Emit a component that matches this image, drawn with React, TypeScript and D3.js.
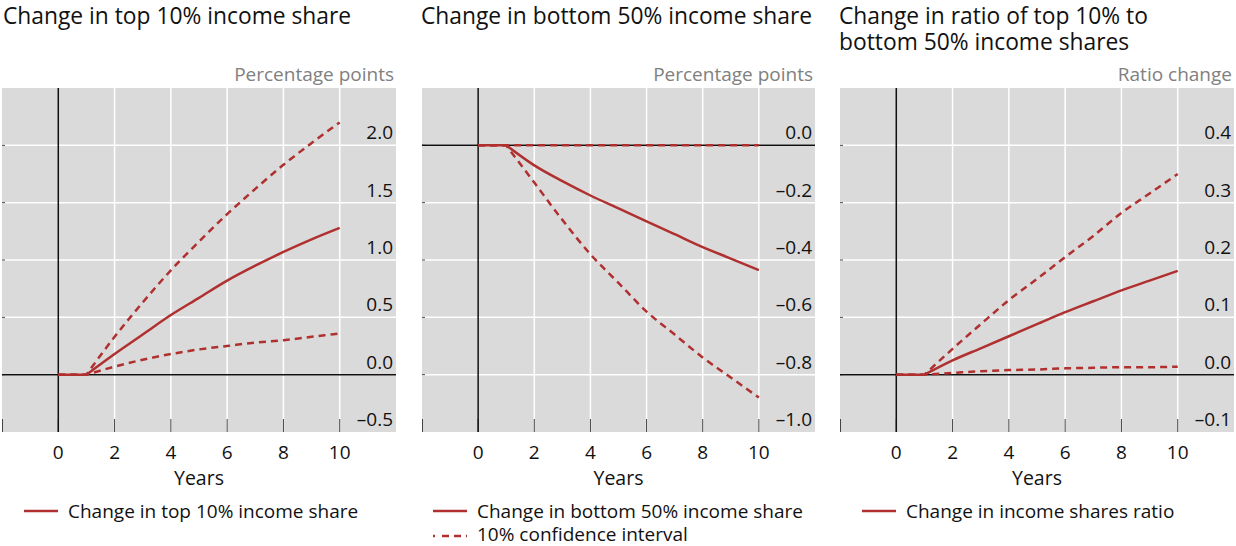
import React from "react";
import * as d3 from "d3";

const years = [0, 1, 2, 3, 4, 5, 6, 7, 8, 9, 10];

const top10Central = [0, 0, 0.18, 0.35, 0.52, 0.67, 0.82, 0.95, 1.07, 1.18, 1.28];
const top10Upper = [0, 0, 0.33, 0.63, 0.91, 1.16, 1.4, 1.62, 1.83, 2.02, 2.2];
const top10Lower = [0, 0, 0.07, 0.13, 0.18, 0.22, 0.25, 0.28, 0.3, 0.33, 0.36];

const bot50Central = [0, 0, -0.07, -0.125, -0.175, -0.22, -0.265, -0.31, -0.355, -0.395, -0.435];
const bot50Upper = [0, 0, 0, 0, 0, 0, 0, 0, 0, 0, 0];
const bot50Lower = [0, 0, -0.13, -0.26, -0.38, -0.48, -0.58, -0.66, -0.74, -0.81, -0.88];

const ratioCentral = [0, 0, 0.025, 0.046, 0.067, 0.088, 0.109, 0.128, 0.147, 0.164, 0.181];
const ratioUpper = [0, 0, 0.045, 0.088, 0.13, 0.167, 0.205, 0.242, 0.282, 0.316, 0.35];
const ratioLower = [0, 0, 0.003, 0.006, 0.008, 0.009, 0.011, 0.012, 0.013, 0.013, 0.014];

const xTicks = [0, 2, 4, 6, 8, 10];

const panels = [
  {
    title: ["Change in top 10% income share"],
    unit: "Percentage points",
    yDomain: [-0.5, 2.5],
    yTicks: [-0.5, 0, 0.5, 1.0, 1.5, 2.0],
    yGrid: [0, 0.5, 1.0, 1.5, 2.0],
    central: top10Central,
    upper: top10Upper,
    lower: top10Lower,
    legend: ["Change in top 10% income share"],
    left: 2,
    right: 396,
    titleX: 3,
    legendX: 24,
  },
  {
    title: ["Change in bottom 50% income share"],
    unit: "Percentage points",
    yDomain: [-1.0, 0.2],
    yTicks: [-1.0, -0.8, -0.6, -0.4, -0.2, 0.0],
    yGrid: [-0.8, -0.6, -0.4, -0.2, 0.0],
    central: bot50Central,
    upper: bot50Upper,
    lower: bot50Lower,
    legend: ["Change in bottom 50% income share", "10% confidence interval"],
    left: 422,
    right: 815,
    titleX: 421,
    legendX: 433,
  },
  {
    title: ["Change in ratio of top 10% to", "bottom 50% income shares"],
    unit: "Ratio change",
    yDomain: [-0.1, 0.5],
    yTicks: [-0.1, 0, 0.1, 0.2, 0.3, 0.4],
    yGrid: [0, 0.1, 0.2, 0.3, 0.4],
    central: ratioCentral,
    upper: ratioUpper,
    lower: ratioLower,
    legend: ["Change in income shares ratio"],
    left: 840,
    right: 1234,
    titleX: 839,
    legendX: 862,
  },
];

const RED = "#b03030";
const BG = "#dadada";
const FONT = "'Open Sans', 'Noto Sans', sans-serif";
const TOP = 88;
const BOTTOM = 432;

const fmt = (v: number) => {
  const s = d3.format(".1f")(Math.abs(v));
  return v < -1e-9 ? "\u2013" + s : s;
};

function Panel({ p }: { p: (typeof panels)[number] }) {
  const x = d3.scaleLinear().domain([-2, 12]).range([p.left, p.right]);
  const y = d3.scaleLinear().domain(p.yDomain).range([BOTTOM, TOP]);
  const flat = d3
    .line<number>()
    .x((_, i) => x(years[i]))
    .y((d) => y(d));
  const curve = d3
    .line<number>()
    .x((_, i) => x(years[i + 1]))
    .y((d) => y(d))
    .curve(d3.curveMonotoneX);
  const series = (vals: number[]) => (flat(vals.slice(0, 2)) || "") + (curve(vals.slice(1)) || "").replace(/^M/, "L");
  const gridYears = [2, 4, 6, 8, 10];
  const tickYears = [-2, 0, 2, 4, 6, 8, 10];
  return (
    <g>
      {p.title.map((t, i) => (
        <text key={i} x={p.titleX} y={24 + i * 26} fontSize={22.8} fill="#111" fontFamily={FONT}>
          {t}
        </text>
      ))}
      <text x={p.right - 2} y={81} fontSize={19} fill="#808080" textAnchor="end" fontFamily={FONT}>
        {p.unit}
      </text>
      <rect x={p.left} y={TOP} width={p.right - p.left} height={BOTTOM - TOP} fill={BG} />
      {gridYears.map((g) => (
        <line key={"vx" + g} x1={x(g)} x2={x(g)} y1={TOP} y2={BOTTOM} stroke="#fff" strokeWidth={1.5} />
      ))}
      {p.yGrid.map((g) => (
        <line key={"hy" + g} x1={p.left} x2={p.right} y1={y(g)} y2={y(g)} stroke="#fff" strokeWidth={1.5} />
      ))}
      {tickYears.map((g) => (
        <line key={"tk" + g} x1={x(g) + (g === -2 ? 0.5 : 0)} x2={x(g) + (g === -2 ? 0.5 : 0)} y1={BOTTOM - 13} y2={BOTTOM} stroke="#444" strokeWidth={1} />
      ))}
      {p.yGrid.map((g) => (
        <line key={"ly" + g} x1={p.left} x2={p.left + 3} y1={y(g)} y2={y(g)} stroke="#444" strokeWidth={1} />
      ))}
      <line x1={x(0)} x2={x(0)} y1={TOP} y2={BOTTOM} stroke="#111" strokeWidth={1.5} />
      <line x1={p.left} x2={p.right} y1={y(0)} y2={y(0)} stroke="#111" strokeWidth={1.5} />
      {p.yTicks.map((t) => (
        <text key={"yl" + t} x={p.right - 3} y={y(t) - 6} fontSize={19} fill="#111" textAnchor="end" fontFamily={FONT}>
          {fmt(t)}
        </text>
      ))}
      {xTicks.map((t) => (
        <text key={"xl" + t} x={x(t)} y={459} fontSize={19} fill="#111" textAnchor="middle" fontFamily={FONT}>
          {t}
        </text>
      ))}
      <text x={x(5)} y={485} fontSize={19.5} fill="#111" textAnchor="middle" fontFamily={FONT}>
        Years
      </text>
      <path d={series(p.upper)} fill="none" stroke={RED} strokeWidth={2.5} strokeDasharray="7,5" />
      <path d={series(p.lower)} fill="none" stroke={RED} strokeWidth={2.5} strokeDasharray="7,5" />
      <path d={series(p.central)} fill="none" stroke={RED} strokeWidth={2.5} />
      {p.legend.map((l, i) => (
        <g key={"lg" + i}>
          <line
            x1={p.legendX}
            x2={p.legendX + 34}
            y1={511 + i * 25}
            y2={511 + i * 25}
            stroke={RED}
            strokeWidth={2.5}
            strokeDasharray={i === 1 ? "2,7,7,5,7,5" : undefined}
          />
          <text x={p.legendX + 44} y={518 + i * 23} fontSize={19} fill="#111" fontFamily={FONT}>
            {l}
          </text>
        </g>
      ))}
    </g>
  );
}

export default function App() {
  return (
    <svg width={1236} height={546} style={{ position: "absolute", left: 0, top: 0 }}>
      <rect width={1236} height={546} fill="#fff" />
      {panels.map((p, i) => (
        <Panel key={i} p={p} />
      ))}
    </svg>
  );
}
